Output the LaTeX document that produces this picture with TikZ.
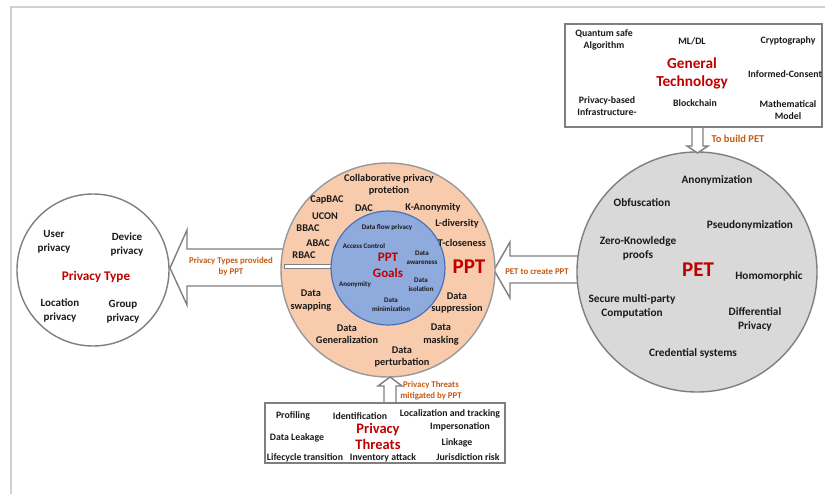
\documentclass[tikz,border=0pt]{standalone}
\usepackage{fontspec}
\setmainfont{Carlito}
\usetikzlibrary{calc}
\definecolor{txt}{HTML}{1A1A1A}
\definecolor{redt}{HTML}{C00000}
\definecolor{orng}{HTML}{C55A11}
\definecolor{peach}{HTML}{F8CBAD}
\definecolor{blueF}{HTML}{8FAADC}
\definecolor{blueL}{HTML}{4A72B8}
\definecolor{petF}{HTML}{D9D9D9}
\definecolor{edge}{HTML}{7F7F7F}
\definecolor{framec}{HTML}{D0D0D0}
\begin{document}
\begin{tikzpicture}[x=1pt,y=-1pt,
  every node/.style={inner sep=0pt, align=center, text=txt},
  ring/.style={font=\bfseries\fontsize{10.3}{12.6}\selectfont},
  pett/.style={font=\bfseries\fontsize{11.3}{14}\selectfont},
  gent/.style={font=\bfseries\fontsize{9.8}{12}\selectfont},
  thrt/.style={font=\bfseries\fontsize{9.8}{12}\selectfont},
  typt/.style={font=\bfseries\fontsize{11}{14}\selectfont},
  innt/.style={font=\bfseries\fontsize{7}{9}\selectfont},
  redmid/.style={text=redt, font=\bfseries\fontsize{15.3}{17.5}\selectfont},
  redbig/.style={text=redt, font=\bfseries\fontsize{21}{24}\selectfont},
  orgt/.style={text=orng, font=\bfseries\fontsize{8.8}{10.8}\selectfont},
  blockarrow/.style={draw=edge, fill=white, line width=1.4pt, line join=miter},
  circ/.style={circle, draw=edge, line width=1.4pt, inner sep=0pt},
  boxst/.style={draw=edge, fill=white, line width=1.4pt}
]
\useasboundingbox (0,0) rectangle (825,495);
\fill[white] (0,0) rectangle (825,495);
% frame
\draw[framec, line width=2pt] (11,494) -- (11,7) -- (825,7);

% block arrows under circles
\draw[blockarrow] (170,268) -- (187,230) -- (187,249) -- (300,249) -- (300,286) -- (187,286) -- (187,305) -- cycle;
\draw[blockarrow] (494,270) -- (510,242) -- (510,256) -- (600,256) -- (600,283) -- (510,283) -- (510,298) -- cycle;

% circles
\node[circ, fill=white, minimum size=152pt] (ptc) at (93,270) {};
\node[circ, draw=edge!80, fill=peach, minimum size=214pt] (pptc) at (388,270) {};
\node[circ, draw=edge, fill=petF, minimum size=240pt] (petc) at (697,272) {};
\draw[edge, line width=0.8pt, fill=white] (284,264) rectangle (333,268);
\node[circle, draw=blueL, fill=blueF, line width=1.2pt, minimum size=114pt] (goalc) at (388,268) {};

% top and bottom block arrows
\draw[blockarrow] (692,127) -- (703,127) -- (703,146) -- (708,146) -- (697.5,153) -- (687,146) -- (692,146) -- cycle;
\draw[blockarrow] (384,404) -- (384,386) -- (378,386) -- (390,377) -- (402,386) -- (396,386) -- (396,404) -- cycle;

% boxes
\draw[boxst] (565,24) rectangle (822,127);
\draw[boxst] (265,403) rectangle (505,463);

% Privacy Type
\node[typt] (u) at (54,242) {User\\privacy};
\node[typt] (dv) at (127,245) {Device\\privacy};
\node[text=redt, font=\bfseries\fontsize{13.2}{15}\selectfont] (pty) at (96,277) {Privacy Type};
\node[typt] (loc) at (60,310) {Location\\privacy};
\node[typt] (grp) at (123,312) {Group\\privacy};
\node[orgt] (o1) at (231,267) {Privacy Types provided\\by PPT};

% PPT ring
\node[ring] (r1) at (389,184.5) {Collaborative privacy\\protetion};
\node[ring] (r2) at (327,200) {CapBAC};
\node[ring] (r3) at (364,208) {DAC};
\node[ring] (r4) at (433,208) {K-Anonymity};
\node[ring] (r5) at (325,216) {UCON};
\node[ring] (r6) at (308,228) {BBAC};
\node[ring] (r7) at (457,224) {L-diversity};
\node[ring] (r8) at (318,243) {ABAC};
\node[ring] (r9) at (462,243) {T-closeness};
\node[ring] (r10) at (304,255) {RBAC};
\node[redbig] (pptl) at (469,267) {PPT};
\node[ring] (r11) at (311,300.5) {Data\\swapping};
\node[ring] (r12) at (457,303) {Data\\suppression};
\node[ring] (r13) at (347,334) {Data\\Generalization};
\node[ring] (r14) at (441,334.5) {Data\\masking};
\node[ring] (r15) at (402,357) {Data\\perturbation};

% inner goals
\node[innt] (g1) at (387,228) {Data flow privacy};
\node[innt] (g2) at (364,246) {Access Control};
\node[text=redt, font=\bfseries\fontsize{13}{15.5}\selectfont] (gl) at (388,265.5) {PPT\\Goals};
\node[innt] (g3) at (422,257.5) {Data\\awareness};
\node[innt] (g4) at (355,285) {Anonymity};
\node[innt] (g5) at (421,284.5) {Data\\isolation};
\node[innt] (g6) at (391,304.5) {Data\\minimization};
\node[orgt] (o2) at (537,272) {PET to create PPT};

% PET
\node[pett] (p1) at (717,180) {Anonymization};
\node[pett] (p2) at (642,203) {Obfuscation};
\node[pett] (p3) at (750,225) {Pseudonymization};
\node[pett] (p4) at (638,248) {Zero-Knowledge\\proofs};
\node[redbig] (petl) at (698,270) {PET};
\node[pett] (p5) at (769,276) {Homomorphic};
\node[pett] (p6) at (632,306) {Secure multi-party\\Computation};
\node[pett] (p7) at (755,319.5) {Differential\\Privacy};
\node[pett] (p8) at (693,353) {Credential systems};

% General Technology
\node[gent] (t1) at (604,40) {Quantum safe\\Algorithm};
\node[gent] (t2) at (692,41) {ML/DL};
\node[gent] (t3) at (788,41) {Cryptography};
\node[redmid] (gt) at (692,73.5) {General\\Technology};
\node[gent] (t4) at (785,74) {Informed-Consent};
\node[gent] (t5) at (607,106.5) {Privacy-based\\Infrastructure-};
\node[gent] (t6) at (695,103) {Blockchain};
\node[gent] (t7) at (788,110.5) {Mathematical\\Model};
\node[orgt, font=\bfseries\fontsize{10.5}{12}\selectfont] (o3) at (738,139) {To build PET};

% Threats
\node[thrt] (h1) at (293,416) {Profiling};
\node[thrt] (h2) at (360,416) {Identification};
\node[thrt] (h3) at (450,414) {Localization and tracking};
\node[thrt] (h4) at (460,427) {Impersonation};
\node[text=redt, font=\bfseries\fontsize{14.5}{15.5}\selectfont] (pth) at (378,436.5) {Privacy\\Threats};
\node[thrt] (h5) at (297,438) {Data Leakage};
\node[thrt] (h6) at (457,443) {Linkage};
\node[thrt] (h7) at (305,457.5) {Lifecycle transition};
\node[thrt] (h8) at (383,457.5) {Inventory attack};
\node[thrt] (h9) at (468,457.5) {Jurisdiction risk};
\node[orgt] (o4) at (431,390.5) {Privacy Threats\\mitigated by PPT};
\end{tikzpicture}
\end{document}
